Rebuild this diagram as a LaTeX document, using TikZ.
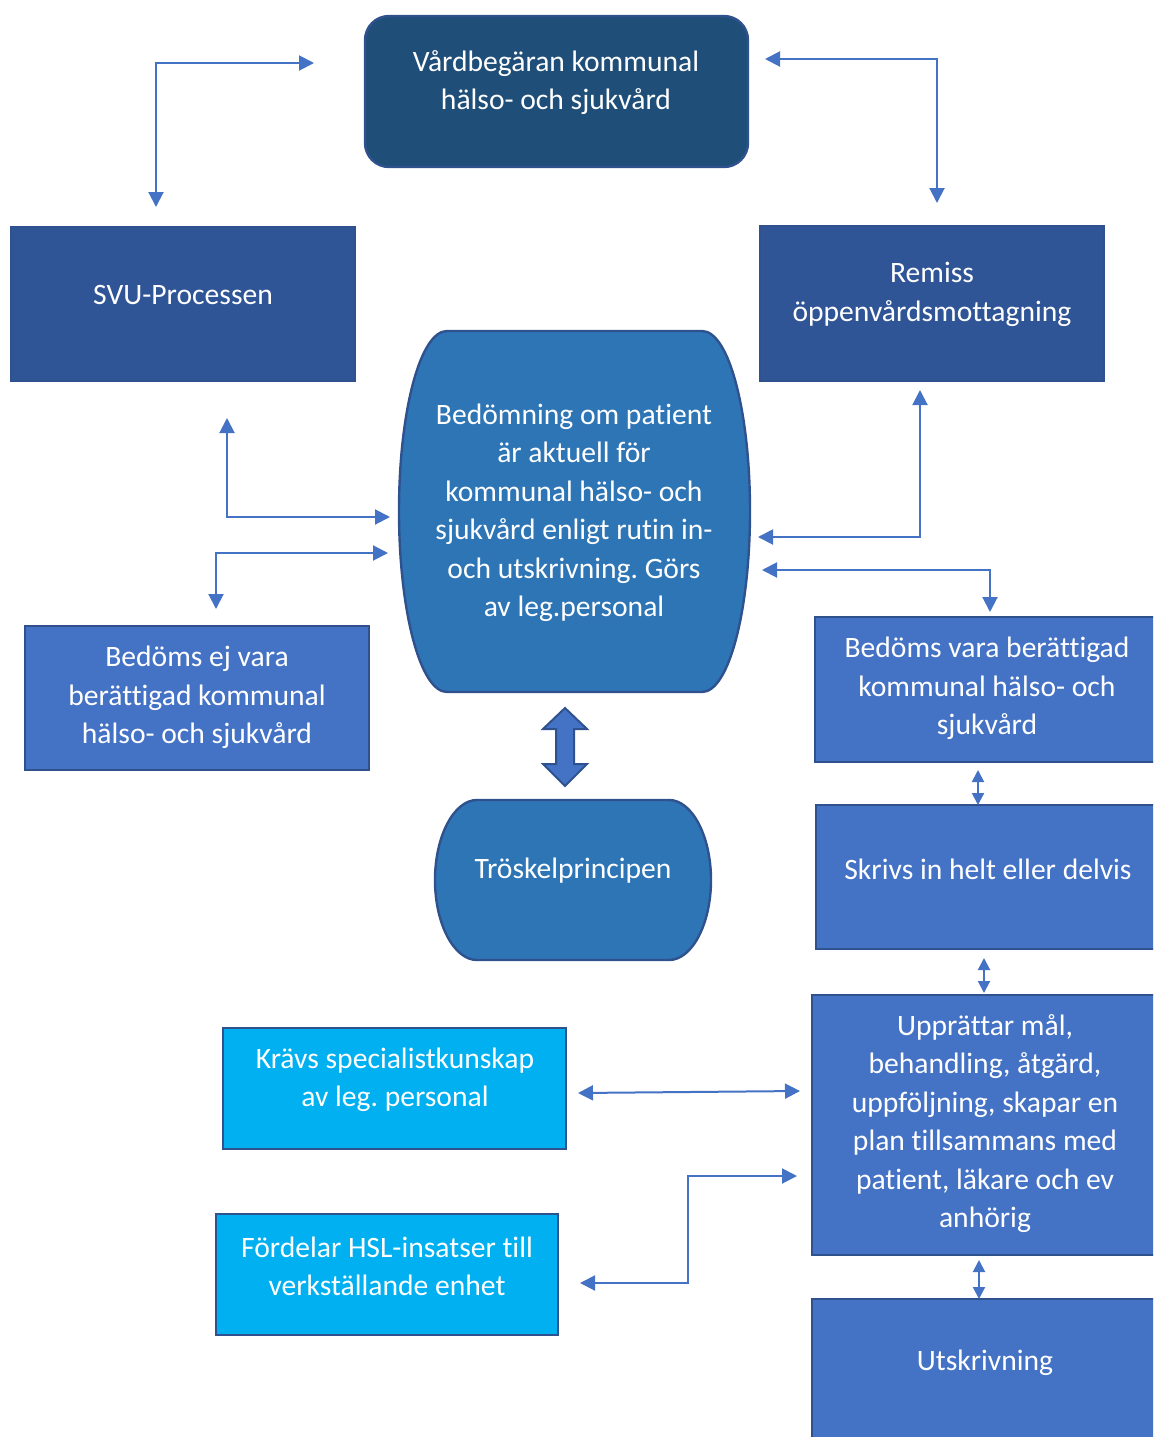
\documentclass[tikz,border=0pt]{standalone}
\usepackage{fontspec}
\setmainfont{Carlito}[Ligatures=NoCommon]
\usetikzlibrary{arrows.meta,calc}
\definecolor{navy}{RGB}{31,78,121}
\definecolor{darkblue}{RGB}{47,85,151}
\definecolor{midblue}{RGB}{46,117,182}
\definecolor{accent}{RGB}{68,114,196}
\definecolor{edgeblue}{RGB}{47,82,143}
\definecolor{cyanbox}{RGB}{0,176,240}
\frenchspacing
\begin{document}
\begin{tikzpicture}[x=0.5pt,y=-0.5pt,
  lbl/.style={text=white,font=\fontsize{14.8}{19.25}\selectfont,align=center,inner sep=0pt},
  boxshape/.style={draw=edgeblue,line width=1.2pt,inner sep=0pt},
  conn/.style={draw=accent,line width=1pt,{Triangle[length=7.5pt,width=7.5pt]}-{Triangle[length=7.5pt,width=7.5pt]}},
  smallconn/.style={draw=accent,line width=1pt,{Triangle[length=6pt,width=6pt]}-{Triangle[length=6pt,width=6pt]}},
]
\useasboundingbox (0,0) rectangle (1153,1437);
\clip (0,0) rectangle (1153,1437);

% boxes
\node[boxshape,fill=navy,rounded corners=12pt,minimum width=191.5pt,minimum height=75.5pt] (top) at (556.5,91.5) {};
\node[boxshape,fill=darkblue,minimum width=172pt,minimum height=77pt] (svu) at (183,304) {};
\node[boxshape,fill=darkblue,minimum width=172pt,minimum height=77.5pt] (remiss) at (932,303.5) {};
\node[boxshape,fill=accent,minimum width=172pt,minimum height=72pt] (bej) at (197,698) {};
\node[boxshape,fill=accent,minimum width=172.5pt,minimum height=72.5pt] (bvara) at (987.5,689.5) {};
\node[boxshape,fill=accent,minimum width=172pt,minimum height=72pt] (skrivs) at (988,877) {};
\node[boxshape,fill=accent,minimum width=174pt,minimum height=130pt] (uppr) at (986,1125) {};
\node[boxshape,fill=accent,minimum width=174pt,minimum height=75.5pt] (utskr) at (986,1374.5) {};
\node[boxshape,fill=cyanbox,minimum width=171.5pt,minimum height=60.5pt] (kravs) at (394.5,1088.5) {};
\node[boxshape,fill=cyanbox,minimum width=171pt,minimum height=60.5pt] (fordel) at (387,1274.5) {};

% barrel shapes
\draw[draw=edgeblue,line width=1.2pt,fill=midblue]
  (447,331) -- (702,331)
  .. controls (729,331) and (750,412) .. (750,511)
  .. controls (750,610) and (729,692) .. (702,692)
  -- (447,692)
  .. controls (420,692) and (399,610) .. (399,511)
  .. controls (399,412) and (420,331) .. (447,331) -- cycle;
\draw[draw=edgeblue,line width=1.2pt,fill=midblue]
  (477,800) -- (669,800)
  .. controls (692,800) and (711,836) .. (711,880)
  .. controls (711,924) and (692,960) .. (669,960)
  -- (477,960)
  .. controls (454,960) and (435,924) .. (435,880)
  .. controls (435,836) and (454,800) .. (477,800) -- cycle;

% texts
\node[lbl] (ttop) at (556,82.5) {Vårdbegäran kommunal\\hälso- och sjukvård};
\node[lbl] (tsvu) at (183,295) {SVU-Processen};
\node[lbl] (tremiss) at (932,294.5) {Remiss\\öppenvårdsmottagning};
\node[lbl] (tbed) at (574,513) {Bedömning om patient\\är aktuell för\\kommunal hälso- och\\sjukvård enligt rutin in-\\och utskrivning. Görs\\av leg.personal};
\node[lbl] (tbej) at (197,697.5) {Bedöms ej vara\\berättigad kommunal\\hälso- och sjukvård};
\node[lbl] (tbvara) at (987,688.5) {Bedöms vara berättigad\\kommunal hälso- och\\sjukvård};
\node[lbl] (ttrosk) at (573,871) {Tröskelprincipen};
\node[lbl] (tskrivs) at (988,869) {Skrivs in helt eller delvis};
\node[lbl] (tuppr) at (985,1123.5) {Upprättar mål,\\behandling, åtgärd,\\uppföljning, skapar en\\plan tillsammans med\\patient, läkare och ev\\anhörig};
\node[lbl] (tutskr) at (985,1363) {Utskrivning};
\node[lbl] (tkravs) at (395,1080) {Krävs specialistkunskap\\av leg. personal};
\node[lbl] (tfordel) at (387,1266.5) {Fördelar HSL-insatser till\\verkställande enhet};

% connector end points
\coordinate (a1) at (156,207); \coordinate (a2) at (314,63);
\coordinate (b1) at (765,59);  \coordinate (b2) at (937,203);
\coordinate (c1) at (227,418); \coordinate (c2) at (390,517);
\coordinate (d1) at (388,553); \coordinate (d2) at (216,609);
\coordinate (e1) at (920,390); \coordinate (e2) at (758,537);
\coordinate (f1) at (762,570); \coordinate (f2) at (990,612);
\coordinate (h1) at (978,770); \coordinate (h2) at (978,805);
\coordinate (i1) at (984,958); \coordinate (i2) at (984,993);
\coordinate (j1) at (979,1260); \coordinate (j2) at (979,1299);
\coordinate (k1) at (578,1093); \coordinate (k2) at (800,1091);
\coordinate (l1) at (580,1283); \coordinate (l2) at (797,1176);

\draw[conn] (a1) |- (a2);
\draw[conn] (b1) -| (b2);
\draw[conn] (c1) |- (c2);
\draw[conn] (d1) -| (d2);
\draw[conn] (e1) |- (e2);
\draw[conn] (f1) -| (f2);
\draw[smallconn] (h1) -- (h2);
\draw[smallconn] (i1) -- (i2);
\draw[smallconn] (j1) -- (j2);
\draw[conn] (k1) -- (k2);
\draw[conn] (l1) -- ++(108,0) |- (l2);

% block double arrow
\draw[draw=edgeblue,line width=1pt,fill=accent]
  (565,708) -- (587,729) -- (574,729) -- (574,764) -- (587,764) -- (565,786)
  -- (543,764) -- (556,764) -- (556,729) -- (543,729) -- cycle;
\end{tikzpicture}
\end{document}
